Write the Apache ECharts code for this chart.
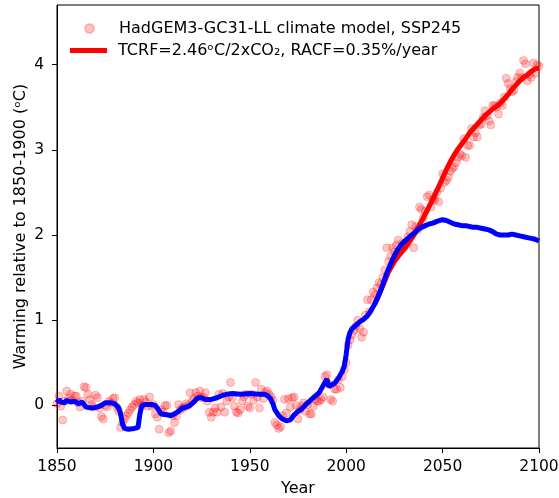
<!DOCTYPE html>
<html>
<head>
<meta charset="utf-8">
<script src="https://cdn.jsdelivr.net/npm/echarts@6/dist/echarts.min.js"></script>
<style>html,body{margin:0;padding:0;background:#fff;}#c{width:559px;height:498px;}</style>
</head>
<body>
<div id="c"></div>
<script>
// Annual model values (scatter), 1850..2100
const scatterStartYear = 1850;
const scatterValues = [
  0.02, 0.11, -0.01, -0.17, 0.05, 0.17, 0.08, 0.13, 0.06, 0.11,
  0.11, 0.03, -0.02, 0.05, 0.22, 0.21, 0.13, 0.07, 0.01, -0.02,
  0.12, 0.09, -0.03, -0.13, -0.16, 0.00, -0.02, 0.05, 0.03, 0.08,
  0.09, -0.02, -0.07, -0.26, -0.20, -0.16, -0.12, -0.09, -0.05, -0.02,
  0.01, 0.05, 0.03, 0.07, 0.00, 0.07, 0.04, -0.01, 0.10, -0.01,
  0.01, -0.10, -0.14, -0.28, -0.05, -0.08, 0.00, 0.00, -0.32, -0.30,
  -0.12, -0.20, -0.12, 0.01, -0.05, -0.03, -0.02, 0.02, 0.00, 0.15,
  0.05, 0.08, 0.15, 0.11, 0.17, 0.09, 0.10, 0.15, 0.05, -0.08,
  -0.14, -0.08, -0.03, -0.08, 0.13, -0.02, 0.14, -0.08, 0.05, 0.10,
  0.27, 0.09, -0.01, -0.08, -0.09, -0.05, 0.05, 0.10, 0.13, -0.01,
  -0.03, 0.13, 0.06, 0.27, 0.10, -0.03, 0.19, 0.08, 0.15, 0.17,
  0.13, 0.10, 0.06, -0.20, -0.23, -0.27, -0.25, -0.12, 0.07, -0.09,
  0.08, -0.02, 0.09, 0.10, 0.00, -0.16, -0.05, -0.01, 0.03, -0.07,
  0.01, -0.10, -0.10, -0.01, 0.07, 0.05, 0.05, 0.07, 0.10, 0.34,
  0.36, 0.25, 0.07, 0.05, 0.19, 0.19, 0.30, 0.21, 0.34, 0.42,
  0.50, 0.71, 0.77, 0.83, 0.88, 0.93, 1.00, 0.90, 0.80, 0.86,
  1.06, 1.24, 1.10, 1.24, 1.33, 1.30, 1.38, 1.44, 1.42, 1.50,
  1.59, 1.85, 1.69, 1.75, 1.85, 1.80, 1.88, 1.94, 1.82, 1.90,
  1.86, 1.92, 1.98, 2.04, 2.12, 1.85, 2.10, 2.06, 2.33, 2.30,
  2.20, 2.28, 2.45, 2.47, 2.33, 2.42, 2.41, 2.50, 2.39, 2.55,
  2.72, 2.62, 2.64, 2.68, 2.75, 2.78, 2.80, 2.85, 2.91, 2.95,
  2.93, 3.13, 2.91, 3.05, 3.05, 3.25, 3.15, 3.20, 3.15, 3.29,
  3.30, 3.38, 3.46, 3.40, 3.34, 3.29, 3.52, 3.52, 3.50, 3.42,
  3.55, 3.52, 3.62, 3.84, 3.78, 3.72, 3.68, 3.70, 3.80, 3.85,
  3.90, 3.85, 4.05, 4.01, 3.81, 3.88, 3.85, 4.02, 3.90, 4.00,
  3.98
];

// Blue curve
const blueYears = [
  1850, 1851, 1852, 1853, 1854, 1855, 1857, 1859, 1861, 1863, 1865, 1868, 1871, 1873, 1875, 1878, 1880, 1882, 1883, 1884,
  1885, 1887, 1890, 1892, 1893, 1894, 1896, 1899, 1901, 1902, 1904, 1907, 1909, 1911, 1913, 1915, 1917, 1919, 1921, 1923,
  1925, 1927, 1930, 1933, 1936, 1938, 1941, 1945, 1950, 1955, 1958, 1960, 1961, 1962, 1963, 1965, 1967, 1969, 1971, 1973,
  1975, 1977, 1980, 1983, 1986, 1988, 1990, 1991, 1992, 1994, 1996, 1998, 1999, 2000, 2001, 2002, 2003, 2005, 2007, 2009,
  2011, 2013, 2015, 2017, 2019, 2021, 2023, 2025, 2027, 2029, 2031, 2033, 2035, 2037, 2039, 2041, 2043, 2045, 2047, 2050,
  2052, 2054, 2056, 2058, 2060, 2062, 2064, 2066, 2068, 2070, 2072, 2074, 2076, 2078, 2080, 2082, 2084, 2086, 2088, 2090,
  2092, 2094, 2096, 2098, 2100
];
const blueValues = [
  0.03, 0.07, 0.04, 0.06, 0.03, 0.06, 0.04, 0.05, 0.02, 0.04, -0.02, -0.03, -0.02, 0.00, 0.03, 0.03, 0.02, -0.03, -0.10, -0.22,
  -0.27, -0.28, -0.27, -0.26, -0.10, 0.00, 0.01, 0.01, 0.00, -0.03, -0.10, -0.11, -0.12, -0.10, -0.07, -0.03, -0.02, 0.00, 0.04, 0.09,
  0.09, 0.07, 0.07, 0.09, 0.12, 0.13, 0.14, 0.13, 0.14, 0.13, 0.13, 0.10, 0.07, 0.02, -0.05, -0.12, -0.16, -0.18, -0.17, -0.11,
  -0.07, -0.04, 0.03, 0.09, 0.15, 0.23, 0.31, 0.22, 0.23, 0.26, 0.32, 0.40, 0.46, 0.60, 0.78, 0.86, 0.90, 0.94, 0.98, 1.01,
  1.05, 1.12, 1.20, 1.30, 1.42, 1.55, 1.66, 1.76, 1.84, 1.90, 1.94, 1.98, 2.02, 2.06, 2.09, 2.11, 2.13, 2.14, 2.16, 2.18,
  2.17, 2.15, 2.13, 2.12, 2.11, 2.11, 2.10, 2.09, 2.09, 2.08, 2.07, 2.06, 2.04, 2.01, 2.00, 2.00, 2.00, 2.01, 2.00, 1.99,
  1.98, 1.97, 1.96, 1.95, 1.93
];

// Red curve (TCRF / RACF fit)
const redYears = [
  2015, 2018, 2020, 2022, 2025, 2028, 2031, 2034, 2036, 2038, 2040, 2042, 2044, 2046, 2048, 2050, 2052, 2054, 2056, 2058,
  2060, 2062, 2064, 2066, 2068, 2070, 2072, 2074, 2076, 2078, 2080, 2082, 2084, 2086, 2088, 2090, 2092, 2094, 2096, 2098, 2100
];
const redValues = [
  1.20, 1.35, 1.46, 1.57, 1.69, 1.78, 1.86, 1.96, 2.03, 2.12, 2.20, 2.29, 2.38, 2.47, 2.57, 2.67, 2.77, 2.86, 2.94, 3.01,
  3.07, 3.13, 3.20, 3.25, 3.30, 3.35, 3.40, 3.44, 3.48, 3.51, 3.55, 3.60, 3.65, 3.71, 3.76, 3.81, 3.85, 3.88, 3.92, 3.95, 3.96
];

const xTicks = [1850, 1900, 1950, 2000, 2050, 2100];
const yTicks = [0, 1, 2, 3, 4];

const scatterLabel = 'HadGEM3-GC31-LL climate model, SSP245';
const redLabel = 'TCRF=2.46\u1D52C/2xCO\u2082, RACF=0.35%/year';

const scatterData = scatterValues.map((v, i) => [scatterStartYear + i, v]);
const blueData = blueYears.map((y, i) => [y, blueValues[i]]);
const redData = redYears.map((y, i) => [y, redValues[i]]);

const FONT = 'DejaVu Sans';
const FS = 15.5;
const chart = echarts.init(document.getElementById('c'), null, {renderer: 'canvas'});
chart.setOption({
  animation: false,
  backgroundColor: '#fff',
  textStyle: {fontFamily: FONT},
  grid: {left: 57, right: 20, top: 5, bottom: 50, containLabel: false, outerBoundsMode: 'none',
         show: true, borderColor: '#000', borderWidth: 1, backgroundColor: 'transparent'},
  legend: [
    {
      data: [{name: scatterLabel, icon: 'circle'}],
      left: 84, top: 19, padding: 0,
      itemWidth: 9, itemHeight: 9,
      textStyle: {fontFamily: FONT, fontSize: 16, color: '#000', padding: [0, 0, 0, 20], lineHeight: 19}
    },
    {
      data: [{name: redLabel, icon: 'rect'}],
      left: 70, top: 41, padding: 0,
      itemWidth: 37, itemHeight: 5,
      textStyle: {fontFamily: FONT, fontSize: 16, color: '#000', padding: [0, 0, 0, 6], lineHeight: 19}
    }
  ],
  xAxis: {
    type: 'value', min: 1850, max: 2100, interval: 50,
    name: 'Year', nameLocation: 'middle', nameGap: 33, nameMoveOverlap: false,
    nameTextStyle: {fontFamily: FONT, fontSize: 16, color: '#000'},
    axisLine: {onZero: false, lineStyle: {color: '#000', width: 1}},
    axisTick: {show: true, length: 5, lineStyle: {color: '#000'}, customValues: xTicks},
    axisLabel: {color: '#000', fontSize: FS, fontFamily: FONT, margin: 11, customValues: xTicks, formatter: v => String(v)},
    splitLine: {show: false}
  },
  yAxis: {
    type: 'value', min: -0.5, max: 4.7,
    name: 'Warming relative to 1850-1900 (\u1D52C)', nameLocation: 'middle', nameGap: 28, nameMoveOverlap: false,
    nameTextStyle: {fontFamily: FONT, fontSize: 16, color: '#000'},
    axisLine: {show: true, onZero: false, lineStyle: {color: '#000', width: 1}},
    axisTick: {show: true, length: 5, lineStyle: {color: '#000'}, customValues: yTicks},
    axisLabel: {color: '#000', fontSize: FS, fontFamily: FONT, margin: 13, customValues: yTicks, formatter: v => String(v)},
    splitLine: {show: false}
  },
  series: [
    {
      name: scatterLabel, type: 'scatter', data: scatterData,
      symbol: 'circle', symbolSize: 8,
      itemStyle: {color: 'rgba(255,0,0,0.28)', borderColor: 'rgba(255,0,0,0.28)', borderWidth: 1},
      z: 1
    },
    {
      name: redLabel, type: 'line', data: redData, showSymbol: false, symbol: 'none',
      lineStyle: {color: '#ff0000', width: 5}, itemStyle: {color: '#ff0000'}, z: 2
    },
    {
      name: 'blue', type: 'line', data: blueData, showSymbol: false, symbol: 'none',
      lineStyle: {color: '#0000ff', width: 5}, itemStyle: {color: '#0000ff'}, z: 3
    }
  ]
});
</script>
</body>
</html>
